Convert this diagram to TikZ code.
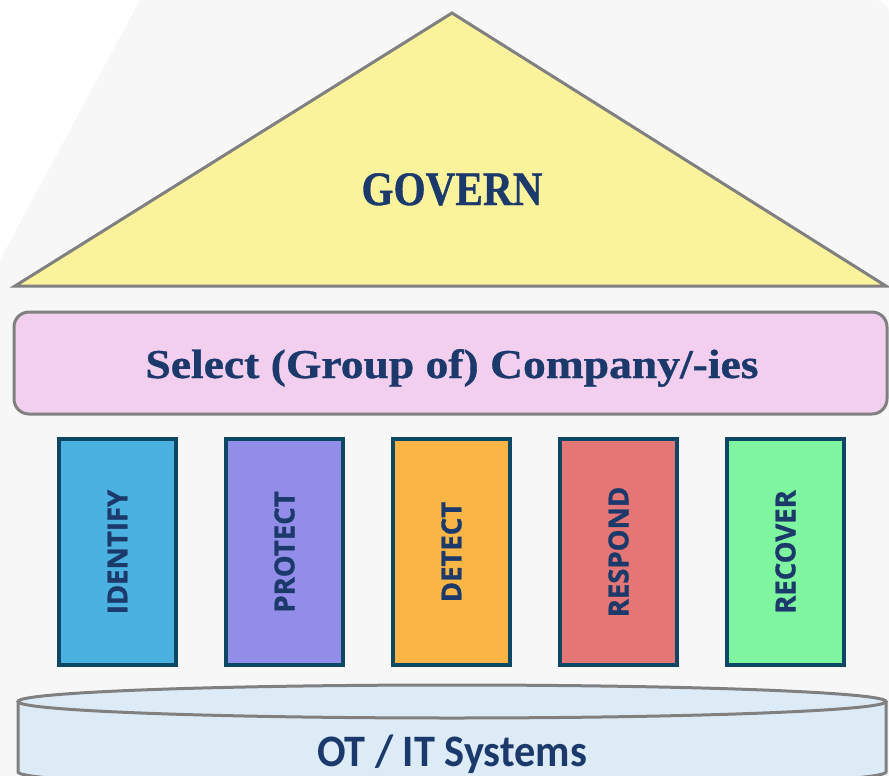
\documentclass[tikz,border=0pt]{standalone}
\usepackage{fontspec}
\setmainfont{Liberation Serif}[BoldFeatures={FakeBold=0.8}]
\newfontfamily\pillarfont{Open Sans}[BoldFeatures={FakeBold=1.2}]
\newfontfamily\basefont{Carlito}
\definecolor{bggray}{HTML}{F7F7F7}
\definecolor{edgegray}{HTML}{808080}
\definecolor{rooffill}{HTML}{FAF39C}
\definecolor{beamfill}{HTML}{F2CFEE}
\definecolor{basefill}{HTML}{DDEBF7}
\definecolor{navy}{HTML}{1B3A6B}
\definecolor{pillaredge}{HTML}{0E4763}
\definecolor{cIdentify}{HTML}{4BB1E1}
\definecolor{cProtect}{HTML}{918DE9}
\definecolor{cDetect}{HTML}{F9B646}
\definecolor{cRespond}{HTML}{E57676}
\definecolor{cRecover}{HTML}{80F5A0}
\tikzset{
  roof/.style={draw=edgegray, line width=3pt, fill=rooffill, line join=miter},
  beam/.style={draw=edgegray, line width=3pt, fill=beamfill, rounded corners=15pt},
  pillar/.style={draw=pillaredge, line width=4pt, rotate=90, minimum width=226pt,
    minimum height=117pt, inner sep=0pt, text=navy,
    font=\pillarfont\bfseries\fontsize{27.5}{27.5}\selectfont},
  basestyle/.style={draw=edgegray, line width=3pt, fill=basefill},
  label/.style={inner sep=0pt, text=navy, anchor=base}
}
\begin{document}
\begin{tikzpicture}[x=1pt,y=-1pt]
\clip (0,0) rectangle (889,776);
\fill[white] (0,0) rectangle (889,776);
\fill[bggray] (140,0) -- (875,0) .. controls (883,0) and (889,6) .. (889,14)
  -- (889,776) -- (0,776) -- (0,260) -- cycle;
% roof
\coordinate (apex) at (452,13);
\coordinate (roofR) at (886,286);
\coordinate (roofL) at (15,286);
\draw[roof] (apex) -- (roofR) -- (roofL) -- cycle;
\node[label] (govern) at (452,205)
  {\resizebox{181pt}{\height}{\fontsize{48}{48}\selectfont\bfseries GOVERN}};
% beam
\draw[beam] (14,312) rectangle (887,414);
\node[label] (select) at (452,378)
  {\resizebox{613pt}{\height}{\fontsize{41}{41}\selectfont\bfseries Select (Group of) Company/-ies}};
% pillars
\foreach \nm/\txt/\col [count=\i from 0] in
  {identify/IDENTIFY/cIdentify, protect/PROTECT/cProtect, detect/DETECT/cDetect,
   respond/RESPOND/cRespond, recover/RECOVER/cRecover}
  \node[pillar, fill=\col] (\nm) at (117.5+167*\i, 552) {\txt};
% base cylinder
\fill[basefill] (18,701) rectangle (886,772);
\fill[basefill] (452,772) ellipse [x radius=434, y radius=16];
\draw[edgegray, line width=3pt] (18,701) -- (18,772)
  arc[start angle=180, end angle=0, x radius=434, y radius=16] -- (886,701);
\draw[basestyle] (452,701.5) ellipse [x radius=434, y radius=16.5];
\node[label] (systems) at (452,766)
  {\resizebox{270pt}{\height}{\basefont\fontsize{45}{45}\selectfont\bfseries OT / IT Systems}};
\end{tikzpicture}
\end{document}
